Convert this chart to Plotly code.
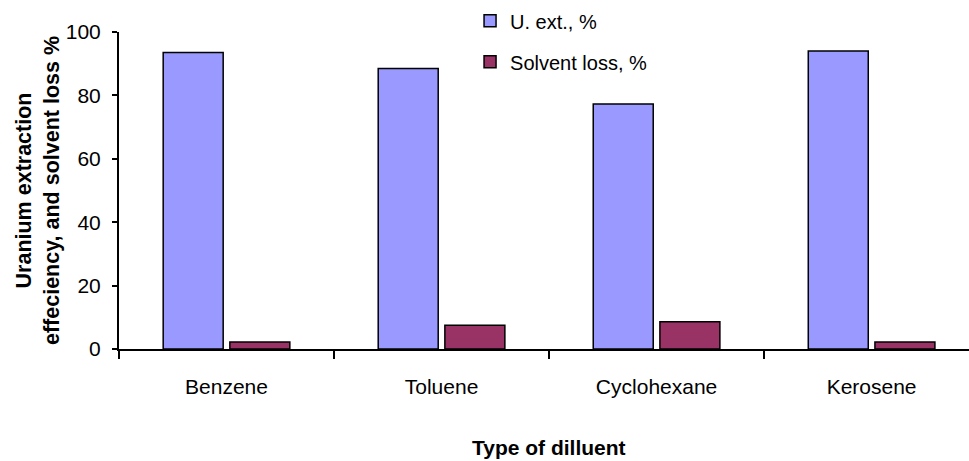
import plotly.graph_objects as go

categories = ["Benzene", "Toluene", "Cyclohexane", "Kerosene"]
u_ext = [93.5, 88.5, 77.3, 94.0]
solvent_loss = [2.2, 7.5, 8.6, 2.2]
y_ticks = [0, 20, 40, 60, 80, 100]

FONT = "Liberation Sans, Arial, sans-serif"

fig = go.Figure()
fig.add_trace(go.Bar(
    x=categories, y=u_ext, name="U. ext., %",
    marker=dict(color="#9999FF", line=dict(color="black", width=1.5)),
    legendgroup="a",
))
fig.add_trace(go.Bar(
    x=categories, y=solvent_loss, name="Solvent loss, %",
    marker=dict(color="#993366", line=dict(color="black", width=1.5)),
    legendgroup="b",
))

fig.update_layout(
    width=969, height=461,
    margin=dict(l=119, r=0, t=32, b=112),
    paper_bgcolor="white", plot_bgcolor="white",
    font=dict(family=FONT, size=21, color="black"),
    barmode="group", bargap=0.38, bargroupgap=0.1,
    showlegend=True,
    legend=dict(
        x=0.413, y=1.097, xanchor="left", yanchor="top",
        font=dict(size=20), bgcolor="rgba(0,0,0,0)",
        traceorder="grouped", tracegroupgap=12,
    ),
    xaxis=dict(
        type="category", range=[-0.5, 3.453],
        showline=True, linecolor="black", linewidth=2,
        ticks="outside", tickson="boundaries", ticklen=8, tickwidth=2, tickcolor="black",
        ticklabelstandoff=18,
        showgrid=False, zeroline=False,
        tickfont=dict(size=21),
    ),
    yaxis=dict(
        range=[0, 100], tickvals=y_ticks,
        showline=True, linecolor="black", linewidth=2,
        ticks="outside", ticklen=5, tickwidth=2, tickcolor="black",
        ticklabelstandoff=7,
        showgrid=False, zeroline=False,
        tickfont=dict(size=21),
        title=dict(text="<b>Uranium extraction<br>effeciency, and solvent loss %</b>",
                   font=dict(size=21.5), standoff=0),
    ),
    annotations=[dict(
        text="<b>Type of dilluent</b>", xref="paper", yref="paper",
        x=0.506, y=-0.31, xanchor="center", yanchor="middle",
        showarrow=False, font=dict(size=21),
    )],
)

fig.write_html("out.html", config={"displayModeBar": False},
               post_script="document.body.style.margin='0';")
